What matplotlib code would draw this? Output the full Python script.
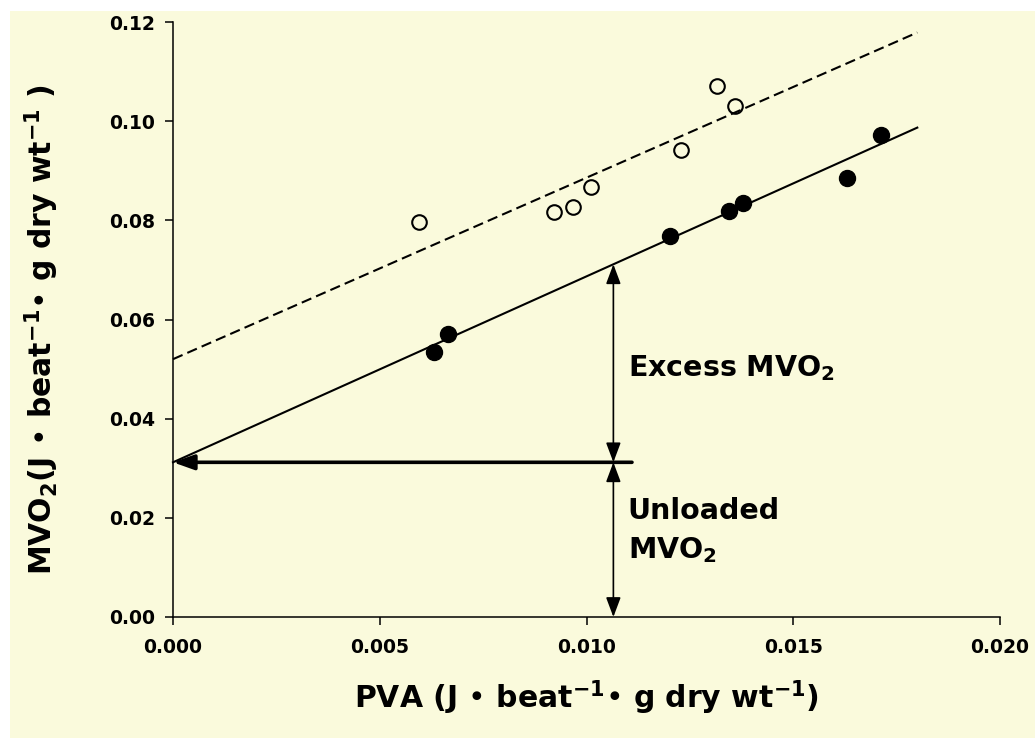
import numpy as np
import matplotlib
matplotlib.use("Agg")
import matplotlib.pyplot as plt
from matplotlib.patches import Rectangle

# open circles (upper group, dashed fit)
open_x = [0.00596, 0.00921, 0.00967, 0.01011, 0.01229, 0.01315, 0.01360]
open_y = [0.0796, 0.0817, 0.0827, 0.0867, 0.0942, 0.1070, 0.1031]

# filled circles (lower group, solid fit)
filled_x = [0.00631, 0.00664, 0.01203, 0.01345, 0.01379, 0.01629, 0.01713]
filled_y = [0.0534, 0.0571, 0.0769, 0.0819, 0.0835, 0.0886, 0.0973]

# regression lines: intercept, slope
solid_fit = (0.0312, 3.75)
dashed_fit = (0.0520, 3.66)
fit_x = np.array([0.0, 0.018])

# annotation positions
arrow_x = 0.01065
hline_end = 0.0111

plt.rcParams['font.family'] = ['DejaVu Sans']
plt.rcParams['font.weight'] = 'bold'

bg = '#FAFADC'
fig = plt.figure(figsize=(10.35, 7.38), dpi=100, facecolor='white')
fig.patches.append(Rectangle((10 / 1035, 0), 1, 1 - 11 / 738, transform=fig.transFigure,
                             facecolor=bg, edgecolor='none', zorder=-10))
ax = fig.add_axes([173 / 1035, 1 - 617 / 738, 827 / 1035, 595 / 738])
ax.patch.set_alpha(0)

ax.plot(fit_x, solid_fit[0] + solid_fit[1] * fit_x, color='k', lw=1.5, clip_on=False)
ax.plot(fit_x, dashed_fit[0] + dashed_fit[1] * fit_x, color='k', lw=1.5,
        dashes=(5, 2.5), clip_on=False)

ax.plot(open_x, open_y, 'o', ms=10.5, mfc='none', mec='k', mew=1.5, zorder=5)
ax.plot(filled_x, filled_y, 'o', ms=11.5, mfc='k', mec='k', zorder=5)

# horizontal arrow to the intercept
ax.annotate('', xy=(0, solid_fit[0]), xytext=(hline_end, solid_fit[0]),
            arrowprops=dict(arrowstyle='-|>,head_length=0.7,head_width=0.25',
                            color='k', lw=2.6, mutation_scale=18,
                            shrinkA=0, shrinkB=0))
top_y = solid_fit[0] + solid_fit[1] * arrow_x
ax.annotate('', xy=(arrow_x, top_y), xytext=(arrow_x, solid_fit[0]),
            arrowprops=dict(arrowstyle='<|-|>,head_length=0.8,head_width=0.3',
                            color='k', lw=1.2, mutation_scale=15,
                            shrinkA=0, shrinkB=0))
ax.annotate('', xy=(arrow_x, 0), xytext=(arrow_x, solid_fit[0]),
            arrowprops=dict(arrowstyle='<|-|>,head_length=0.8,head_width=0.3',
                            color='k', lw=1.2, mutation_scale=15,
                            shrinkA=0, shrinkB=0), annotation_clip=False)

ax.text(0.0110, 0.0502, r'Excess MVO$\mathregular{_2}$', fontsize=20.5,
        fontweight='bold', va='center', ha='left')
ax.text(0.0110, 0.0173, 'Unloaded\n' + r'MVO$\mathregular{_2}$', fontsize=20.5,
        fontweight='bold', va='center', ha='left', linespacing=1.45)

ax.set_xlim(0, 0.020)
ax.set_ylim(0, 0.12)
ax.set_xticks(np.arange(0, 0.0201, 0.005))
ax.set_yticks(np.arange(0, 0.1201, 0.02))
ax.set_xticklabels(['%.3f' % v for v in np.arange(0, 0.0201, 0.005)])
ax.set_yticklabels(['%.2f' % v for v in np.arange(0, 0.1201, 0.02)])
ax.tick_params(direction='out', length=6, width=1.1, labelsize=13.5, pad=7)
ax.tick_params(axis='x', pad=9)
for lab in ax.get_xticklabels() + ax.get_yticklabels():
    lab.set_fontweight('bold')

for s in ['top', 'right']:
    ax.spines[s].set_visible(False)
for s in ['left', 'bottom']:
    ax.spines[s].set_linewidth(1.1)

ax.set_xlabel(r'PVA (J • beat$\mathregular{^{-1}}$• g dry wt$\mathregular{^{-1}}$)',
              fontsize=21.5, fontweight='bold')
ax.set_ylabel(r'MVO$\mathregular{_2}$(J • beat$\mathregular{^{-1}}$• g dry wt$\mathregular{^{-1}}$ )',
              fontsize=21.5, fontweight='bold')
ax.xaxis.set_label_coords(0.5, -0.104)
ax.yaxis.set_label_coords(-0.136, 0.483)

fig.savefig('out.png', dpi=100, facecolor=fig.get_facecolor())
